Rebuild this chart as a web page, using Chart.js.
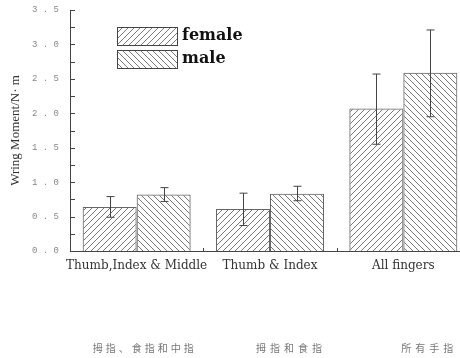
<!DOCTYPE html>
<html>
<head>
<meta charset="utf-8">
<script src="https://cdn.jsdelivr.net/npm/chart.js@4"></script>
<style>
  html, body { margin: 0; padding: 0; background: #fff; overflow: hidden; }
  #wrap { width: 460px; height: 358px; overflow: hidden; }
</style>
</head>
<body>
<div id="wrap"><canvas id="grafico" width="480" height="358"></canvas></div>
<script>
// dados
const categorias = ['Thumb,Index & Middle', 'Thumb & Index', 'All fingers'];
const categoriasZh = ['拇指、食指和中指', '拇指和食指', '所有手指'];
const series = ['female', 'male'];
const female = [0.64, 0.61, 2.07];
const male = [0.82, 0.83, 2.59];
const femaleErr = [[0.49, 0.79], [0.37, 0.84], [1.55, 2.57]];
const maleErr = [[0.72, 0.92], [0.73, 0.94], [1.95, 3.21]];
const yMin = 0, yMax = 3.5, yStep = 0.25, yLabelStep = 0.5;
const tituloY = 'Wring Moment/N· m';

// hachuras
function hachura(dir) {
  const s = 6;
  const c = document.createElement('canvas');
  c.width = s; c.height = s;
  const g = c.getContext('2d');
  g.strokeStyle = '#555';
  g.lineWidth = 0.8;
  g.beginPath();
  if (dir > 0) {
    g.moveTo(0, s); g.lineTo(s, 0);
    g.moveTo(-1, 1); g.lineTo(1, -1);
    g.moveTo(s - 1, s + 1); g.lineTo(s + 1, s - 1);
  } else {
    g.moveTo(0, 0); g.lineTo(s, s);
    g.moveTo(s - 1, -1); g.lineTo(s + 1, 1);
    g.moveTo(-1, s - 1); g.lineTo(1, s + 1);
  }
  g.stroke();
  return g.createPattern(c, 'repeat');
}

const erros = [femaleErr, maleErr];

// barras de erro
const pluginErros = {
  id: 'erros',
  afterDatasetsDraw(chart) {
    const ctx = chart.ctx;
    const y = chart.scales.y;
    ctx.save();
    ctx.strokeStyle = '#444';
    ctx.lineWidth = 1;
    chart.data.datasets.forEach((ds, i) => {
      chart.getDatasetMeta(i).data.forEach((el, j) => {
        const [lo, hi] = erros[i][j];
        const x = Math.round(el.x) + 0.5;
        const y1 = y.getPixelForValue(lo), y2 = y.getPixelForValue(hi);
        ctx.beginPath();
        ctx.moveTo(x, y1); ctx.lineTo(x, y2);
        ctx.moveTo(x - 4, y1); ctx.lineTo(x + 4, y1);
        ctx.moveTo(x - 4, y2); ctx.lineTo(x + 4, y2);
        ctx.stroke();
      });
    });
    ctx.restore();
  }
};

// ticks para dentro, legenda e rótulos em chinês
const pluginExtras = {
  id: 'extras',
  afterDraw(chart) {
    const ctx = chart.ctx;
    const { left, top } = chart.chartArea;
    const xs = chart.scales.x, ys = chart.scales.y;
    ctx.save();
    ctx.strokeStyle = '#444';
    ctx.lineWidth = 1;
    ctx.beginPath();
    ys.ticks.forEach(t => {
      const py = Math.round(ys.getPixelForValue(t.value)) + 0.5;
      ctx.moveTo(left, py); ctx.lineTo(left + 5, py);
    });
    for (let i = 0; i < categorias.length - 1; i++) {
      const px = Math.round((xs.getPixelForTick(i) + xs.getPixelForTick(i + 1)) / 2) + 0.5;
      ctx.moveTo(px, xs.top); ctx.lineTo(px, xs.top - 3);
    }
    ctx.stroke();

    // legenda
    chart.data.datasets.forEach((ds, i) => {
      const bx = left + 47, by = top + 17 + i * 23;
      ctx.fillStyle = ds.backgroundColor;
      ctx.fillRect(bx, by, 60, 18);
      ctx.strokeStyle = '#444';
      ctx.strokeRect(bx + 0.5, by + 0.5, 60, 18);
      ctx.fillStyle = '#111';
      ctx.font = 'bold 16px "DejaVu Serif"';
      ctx.textBaseline = 'middle';
      ctx.textAlign = 'left';
      ctx.fillText(ds.label, bx + 65, by + 9);
    });

    // rótulos em chinês
    const desloc = [8, 21, 26];
    const espaco = ['3px', '4px', '4px'];
    ctx.fillStyle = '#777';
    ctx.font = '10px "Noto Sans CJK SC"';
    ctx.textAlign = 'center';
    ctx.textBaseline = 'middle';
    categoriasZh.forEach((t, i) => {
      ctx.letterSpacing = espaco[i];
      ctx.fillText(t, xs.getPixelForTick(i) + desloc[i], 348);
    });
    ctx.restore();
  }
};

const ctx = document.getElementById('grafico').getContext('2d');
new Chart(ctx, {
  type: 'bar',
  data: {
    labels: categorias,
    datasets: [
      {
        label: series[0],
        data: female,
        backgroundColor: hachura(1),
        borderColor: '#666',
        borderWidth: 1
      },
      {
        label: series[1],
        data: male,
        backgroundColor: hachura(-1),
        borderColor: '#666',
        borderWidth: 1
      }
    ]
  },
  options: {
    responsive: false,
    animation: false,
    devicePixelRatio: 1,
    categoryPercentage: 0.81,
    barPercentage: 1,
    layout: { padding: { top: 10, right: 10, left: 0, bottom: 0 } },
    plugins: {
      legend: { display: false },
      tooltip: { enabled: false }
    },
    scales: {
      x: {
        grid: { display: false },
        border: { display: true, color: '#444' },
        ticks: {
          color: '#333',
          font: { family: 'DejaVu Serif', size: 12 },
          padding: 0,
          maxRotation: 0,
          autoSkip: false
        },
        afterFit: s => { s.height = 107; }
      },
      y: {
        min: yMin,
        max: yMax,
        grid: { display: false },
        border: { display: true, color: '#444' },
        ticks: {
          stepSize: yStep,
          autoSkip: false,
          color: '#888',
          padding: 3,
          font: { family: 'Liberation Mono', size: 9 },
          callback: v => (Math.abs(v / yLabelStep - Math.round(v / yLabelStep)) < 1e-6)
            ? v.toFixed(1).split('').join(' ') : ''
        },
        title: {
          display: true,
          text: tituloY,
          color: '#333',
          font: { family: 'Liberation Serif', size: 13 },
          padding: { top: 8, bottom: 0 }
        },
        afterFit: s => { s.width = 70; }
      }
    }
  },
  plugins: [pluginErros, pluginExtras]
});
</script>
</body>
</html>
